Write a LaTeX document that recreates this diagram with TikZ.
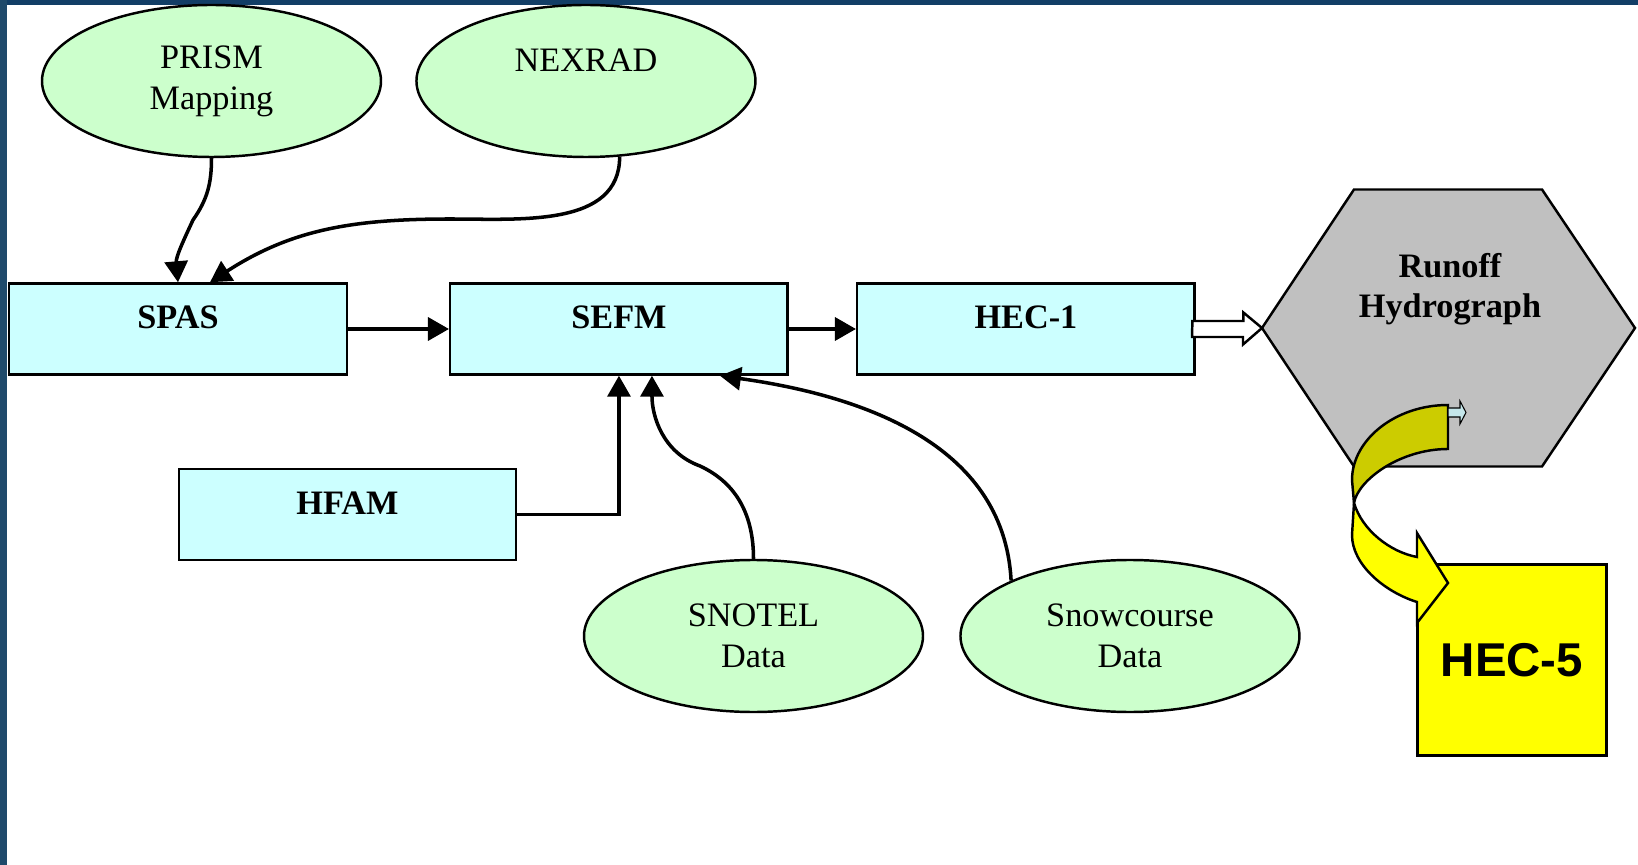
\documentclass[tikz,border=0pt]{standalone}
\usepackage{fontspec}
\setmainfont{Liberation Serif}
\newfontfamily\hecfont{Liberation Sans}
\usetikzlibrary{arrows.meta,positioning,calc,shapes.geometric}
\definecolor{Frame}{HTML}{123E66}
\definecolor{FrameSide}{HTML}{1F4A6B}
\definecolor{SoftGreen}{HTML}{CCFFCC}
\definecolor{SoftCyan}{HTML}{CCFFFF}
\definecolor{HexGray}{HTML}{C0C0C0}
\definecolor{Olive}{HTML}{CCCC00}
\definecolor{Lemon}{HTML}{FFFF00}
\definecolor{PaleBlue}{HTML}{C4E6EA}
\tikzset{
 modelbox/.style={draw, line width=1.4pt, fill=SoftCyan, minimum width=6.75cm, minimum height=1.82cm, text height=0.5cm, text depth=0.5cm, font=\fontsize{19.5}{23}\selectfont\bfseries},
 databubble/.style={ellipse, draw, line width=1.4pt, fill=SoftGreen, minimum width=6.78cm, minimum height=3.04cm, inner sep=0pt, align=center, font=\fontsize{19.5}{23.3}\selectfont},
 flowarrow/.style={-{Triangle[length=0.42cm,width=0.46cm]}, line width=2pt},
 blockarrow/.style={draw, line width=1.4pt, fill=white}
}
\begin{document}
\begin{tikzpicture}[node distance=2.02cm and 1.34cm]
\fill[white] (0,0) rectangle (32.76,-17.3);
\fill[Frame] (0,0) rectangle (32.76,-0.1);
\fill[FrameSide] (0,0) rectangle (0.15,-17.3);
\useasboundingbox (0,0) rectangle (32.76,-17.3);
\coordinate (hexmid) at (28.97,-6.56);
\coordinate (hexwest) at ($(hexmid)+(-3.73,0)$);
\draw[line width=1.4pt, fill=HexGray] (hexwest) -- ++(1.84,2.77) -- ++(3.76,0) -- ++(1.86,-2.77) -- ++(-1.86,-2.77) -- ++(-3.76,0) -- cycle;
\node[font=\fontsize{19.5}{22.8}\selectfont\bfseries, align=center] (runoff) at (29.0,-5.78) {Runoff\\Hydrograph};
\node[modelbox] (spas) at (3.56,-6.58) {SPAS};
\node[modelbox,right=2.02cm of spas] (sefm) {SEFM};
\node[modelbox,right=1.34cm of sefm] (hec1) {HEC-1};
\node[modelbox,below=1.84cm of spas,xshift=3.39cm] (hfam) {HFAM};
\node[databubble] (prism) at (4.23,-1.62) {PRISM\\Mapping};
\node[databubble,right=0.66cm of prism] (nexrad) {NEXRAD\\\mbox{}};
\node[databubble] (snotel) at (15.07,-12.72) {SNOTEL\\Data};
\node[databubble,right=0.7cm of snotel] (snowcourse) {Snowcourse\\Data};
\coordinate (prismbend) at (3.86,-4.40);
\coordinate (nexradbend) at (9.0,-4.38);
\coordinate (snotelbend) at (14.0,-9.32);
\draw[flowarrow] (prism.south) to[out=-90,in=55] (prismbend) to[out=-115,in=95] (spas.north);
\draw[flowarrow] (nexrad.294) to[out=-90,in=0] (nexradbend) to[out=180,in=33] ([xshift=0.64cm]spas.north);
\draw[flowarrow] (spas) -- (sefm);
\draw[flowarrow] (sefm) -- (hec1);
\draw[flowarrow] (hfam.east) -| (sefm.south);
\draw[flowarrow] (snotel.north) to[out=90,in=-25] (snotelbend) to[out=160,in=-90] ([xshift=0.66cm]sefm.south);
\draw[flowarrow] (snowcourse.155) to[out=93,in=-8] ([xshift=2.02cm]sefm.south);
\draw[blockarrow] ([shift={(-0.07,0.16)}]hec1.east) -- ++(1.02,0) -- ++(0,0.17) -- (hexwest) -- ++(-0.38,-0.33) -- ++(0,0.15) -- ++(-1.02,0) -- cycle;
\node[draw, line width=1.4pt, fill=Lemon, minimum width=3.78cm, minimum height=3.82cm, font=\hecfont\bfseries\fontsize{27}{32}\selectfont] (hec5) at (30.24,-13.2) {HEC-5};
\draw[line width=1.4pt, fill=Olive] (28.96,-8.1) .. controls (27.9,-8.1) and (27.04,-8.8) .. (27.04,-9.6) -- (27.08,-10.06) .. controls (27.16,-9.6) and (28.0,-8.98) .. (28.96,-8.98) -- cycle;
\draw[line width=1.4pt, fill=Lemon] (27.08,-10.06) .. controls (27.24,-10.6) and (27.8,-11.04) .. (28.34,-11.14) -- (28.34,-10.66) -- (28.96,-11.66) -- (28.34,-12.46) -- (28.34,-12.04) .. controls (27.7,-11.84) and (27.04,-11.3) .. (27.04,-10.7) -- cycle;
\draw[line width=0.6pt, fill=PaleBlue] (28.96,-8.16) -- (29.2,-8.16) -- (29.2,-8.02) -- (29.32,-8.25) -- (29.2,-8.48) -- (29.2,-8.34) -- (28.96,-8.34) -- cycle;
\end{tikzpicture}
\end{document}
